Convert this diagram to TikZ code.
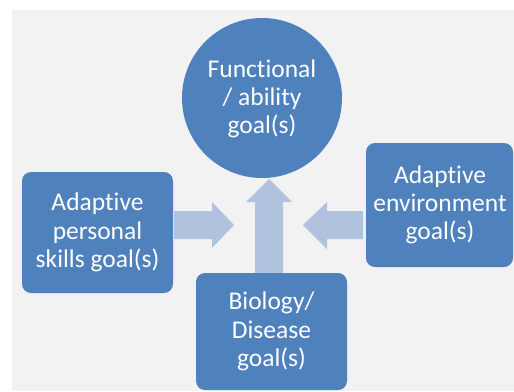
\documentclass[tikz,border=0pt]{standalone}
\usepackage{fontspec}
\setmainfont{Carlito}[RawFeature={-liga;-clig;-dlig}]
\definecolor{boxblue}{HTML}{4F81BD}
\definecolor{arrowblue}{HTML}{B0C2DE}
\definecolor{panelgray}{HTML}{F2F2F2}
\tikzset{
  goalbox/.style={fill=boxblue, rounded corners=9pt, inner sep=0pt},
  goaltext/.style={text=white, align=center, font=\fontsize{25.5}{28.3}\selectfont, inner sep=0pt},
  blockarrow/.style={fill=arrowblue, draw=none}
}
\begin{document}
\begin{tikzpicture}[x=1pt,y=-1pt]
\useasboundingbox (0,0) rectangle (514,391);
\fill[white] (0,0) rectangle (514,391);
\fill[panelgray] (12,10) rectangle (514,391);

% block arrows
\fill[blockarrow] (174,211) -- (212,211) -- (212,202) -- (234,225) -- (212,248) -- (212,239) -- (174,239) -- cycle;
\fill[blockarrow] (363,211) -- (327,211) -- (327,202) -- (303,225) -- (327,249) -- (327,239) -- (363,239) -- cycle;
\fill[blockarrow] (255,273) -- (255,202) -- (246,202) -- (269,179) -- (292,202) -- (283,202) -- (283,273) -- cycle;

% shapes
\fill[boxblue] (262,98) circle[radius=80];
\fill[goalbox] (22,172) rectangle (173,293);
\fill[goalbox] (366,143) rectangle (513,267);
\fill[goalbox] (196,273) rectangle (347,390);

% texts
\node[goaltext] (func) at (262,99) {Functional\\/ ability\\goal(s)};
\node[goaltext] (pers) at (97.5,232.5) {Adaptive\\personal\\skills goal(s)};
\node[goaltext] (env) at (440,205) {Adaptive\\environment\\goal(s)};
\node[goaltext] (bio) at (271.5,331.5) {Biology/\\Disease\\goal(s)};
\end{tikzpicture}
\end{document}
